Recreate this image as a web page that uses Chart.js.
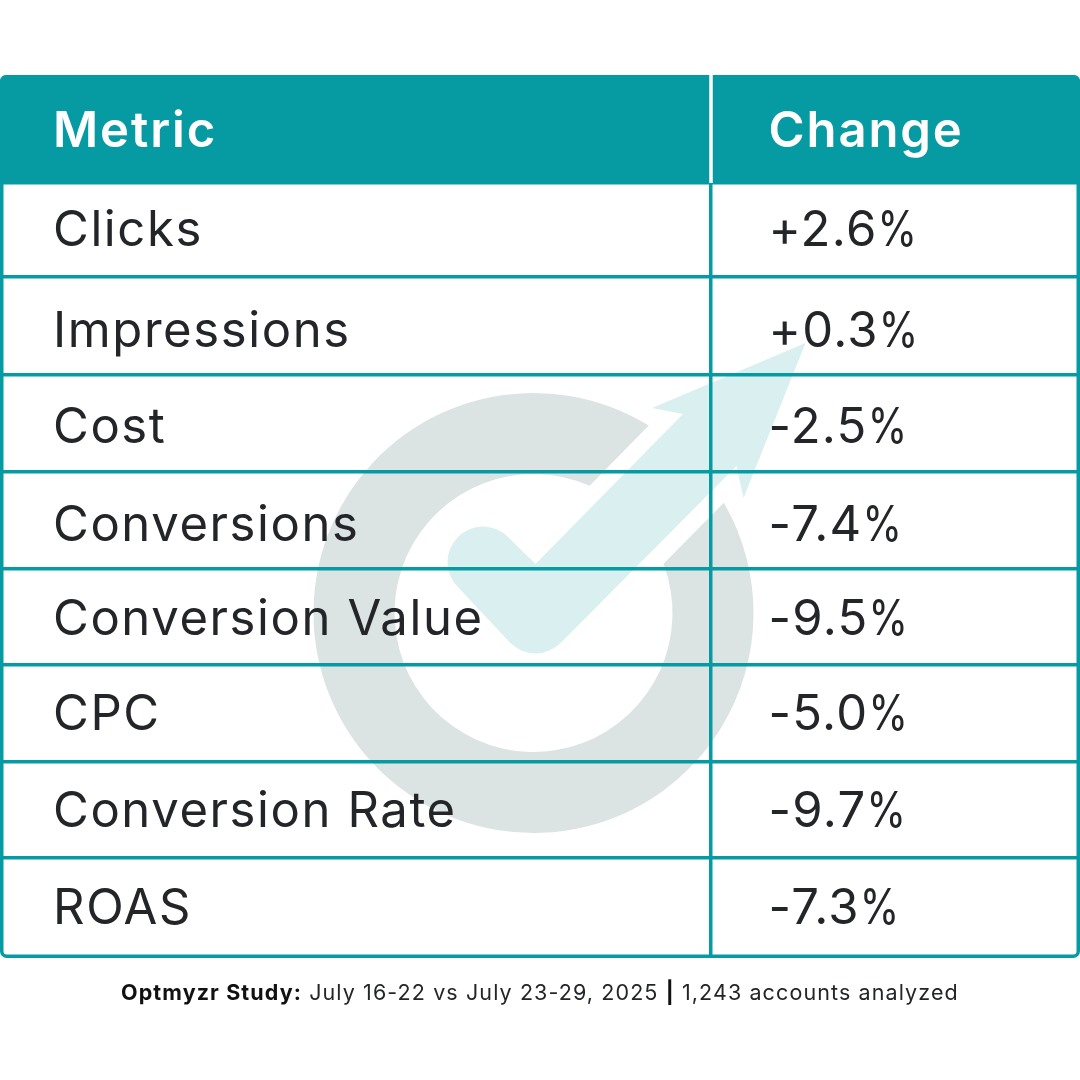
<!DOCTYPE html>
<html>
<head>
<meta charset="utf-8">
<title>Optmyzr Study</title>
<script src="https://cdn.jsdelivr.net/npm/chart.js@4"></script>
<style>
  html, body { margin: 0; padding: 0; background: #fff; }
  canvas { display: block; }
</style>
</head>
<body>
<canvas id="studyTable" width="1080" height="1080"></canvas>
<script>
// table content
const columnTitles = ['Metric', 'Change'];
const metrics = ['Clicks', 'Impressions', 'Cost', 'Conversions', 'Conversion Value', 'CPC', 'Conversion Rate', 'ROAS'];
const changes = [2.6, 0.3, -2.5, -7.4, -9.5, -5.0, -9.7, -7.3];

// layout of the table, in px below its top edge
const rowEdges = [108, 202, 299.5, 396.5, 493.5, 590, 687, 783];
const rowBaselines = [171, 272, 368, 466, 560, 655, 752, 849];
const headerBaseline = 72;
const columnDivider = 711;
const columnStarts = [53, 768.5];

const teal = '#069ba3';
const ink = '#232529';
const ringGrey = '#dce3e3';
const arrowTint = '#d9eff0';
const bodyFont = '400 49px Inter';
const headFont = '600 49px Inter';

function formatChange(v) {
    return (v > 0 ? '+' : v < 0 ? '-' : '') + Math.abs(v).toFixed(1) + '%';
}

const rad = d => d * Math.PI / 180;

// faint logo behind the grid
const watermark = {
    id: 'watermark',
    beforeDraw(chart) {
        const ctx = chart.ctx;
        ctx.save();
        ctx.fillStyle = ringGrey;
        ctx.beginPath();
        ctx.arc(533.5, 613, 220, rad(-58.4), rad(-30.1), true);
        ctx.arc(533.5, 613, 139, rad(-20.7), rad(-66.2), false);
        ctx.closePath();
        ctx.fill();

        ctx.fillStyle = arrowTint;
        ctx.beginPath();
        ctx.moveTo(805.5, 343);
        ctx.lineTo(652, 408);
        ctx.lineTo(683, 414);
        ctx.lineTo(535.5, 564);
        ctx.lineTo(508, 537);
        ctx.arc(483, 562, 35.5, rad(-45), rad(135), true);
        ctx.arc(535.5, 618, 35.5, rad(135), rad(45), true);
        ctx.lineTo(736.5, 466);
        ctx.lineTo(743.5, 498);
        ctx.closePath();
        ctx.fill();
        ctx.restore();
    }
};

function spacedText(ctx, text, x, y, font, spacing, color) {
    ctx.font = font;
    ctx.letterSpacing = spacing + 'px';
    ctx.fillStyle = color;
    ctx.fillText(text, x, y);
    const w = ctx.measureText(text).width;
    ctx.letterSpacing = '0px';
    return x + w;
}

// the % in the reference is narrower than this Inter's, so squeeze it a bit
function changeText(ctx, text, x, y) {
    const digits = text.slice(0, -1);
    const end = spacedText(ctx, digits, x, y, bodyFont, 1.3, ink);
    ctx.save();
    ctx.translate(end, y);
    ctx.scale(0.82, 1);
    spacedText(ctx, '%', 0, 0, bodyFont, 0, ink);
    ctx.restore();
}

const tableFrame = {
    id: 'tableFrame',
    afterDatasetsDraw(chart) {
        const ctx = chart.ctx;
        const area = chart.chartArea;
        const xs = chart.scales.x;
        const ys = chart.scales.y;
        const dividerX = xs.getPixelForValue(columnDivider);
        const headerBottom = ys.getPixelForValue(rowEdges[0]);

        ctx.save();
        // outer border
        ctx.strokeStyle = teal;
        ctx.lineWidth = 3.5;
        ctx.beginPath();
        ctx.roundRect(area.left + 1.75, area.top + 1.75, area.width - 3.5, area.height - 3.5, 5);
        ctx.stroke();

        // header band
        ctx.fillStyle = teal;
        ctx.beginPath();
        ctx.roundRect(area.left, area.top, area.width, headerBottom - area.top, [6, 6, 0, 0]);
        ctx.fill();
        ctx.strokeStyle = '#fff';
        ctx.beginPath();
        ctx.moveTo(dividerX, area.top);
        ctx.lineTo(dividerX, headerBottom);
        ctx.stroke();

        // cell text sits on the scatter points
        ctx.textBaseline = 'alphabetic';
        ctx.textAlign = 'left';
        chart.data.datasets.forEach((ds, i) => {
            chart.getDatasetMeta(i).data.forEach((p, j) => {
                if (j === 0) {
                    spacedText(ctx, ds.cellText[j], p.x, p.y, headFont, 1.9, '#fff');
                } else if (i === 1) {
                    changeText(ctx, ds.cellText[j], p.x, p.y);
                } else {
                    spacedText(ctx, ds.cellText[j], p.x, p.y, bodyFont, 1.6, ink);
                }
            });
        });

        // source line
        const y = 1000;
        let x = 121;
        x = spacedText(ctx, 'Optmyzr Study:', x, y, '700 21.5px Inter', 1.1, '#111');
        x = spacedText(ctx, ' July 16-22 vs July 23-29, 2025 ', x, y, '400 21.5px Inter', 1.1, ink);
        x = spacedText(ctx, '|', x, y, '700 21.5px Inter', 1.1, '#111');
        spacedText(ctx, ' 1,243 accounts analyzed', x, y, '400 21.5px Inter', 1.1, ink);
        ctx.restore();
    }
};

function columnPoints(xStart, cells) {
    return cells.map((_, i) => ({ x: xStart, y: i === 0 ? headerBaseline : rowBaselines[i - 1] }));
}

const metricCells = [columnTitles[0], ...metrics];
const changeCells = [columnTitles[1], ...changes.map(formatChange)];

new Chart(document.getElementById('studyTable'), {
    type: 'scatter',
    data: {
        datasets: [
            { label: columnTitles[0], data: columnPoints(columnStarts[0], metricCells), cellText: metricCells, pointRadius: 0 },
            { label: columnTitles[1], data: columnPoints(columnStarts[1], changeCells), cellText: changeCells, pointRadius: 0 }
        ]
    },
    options: {
        responsive: false,
        animation: false,
        devicePixelRatio: 1,
        layout: { padding: { top: 75, bottom: 122, left: 0, right: 0 } },
        plugins: { legend: { display: false }, title: { display: false }, tooltip: { enabled: false } },
        scales: {
            x: {
                type: 'linear',
                min: 0,
                max: 1080,
                afterBuildTicks: axis => { axis.ticks = [{ value: columnDivider }]; },
                ticks: { display: false },
                border: { display: false },
                grid: { color: teal, lineWidth: 3.5, drawTicks: false }
            },
            y: {
                type: 'linear',
                reverse: true,
                min: 0,
                max: 883,
                afterBuildTicks: axis => { axis.ticks = rowEdges.map(v => ({ value: v })); },
                ticks: { display: false },
                border: { display: false },
                grid: { color: teal, lineWidth: 3.5, drawTicks: false }
            }
        }
    },
    plugins: [watermark, tableFrame]
});
</script>
</body>
</html>
